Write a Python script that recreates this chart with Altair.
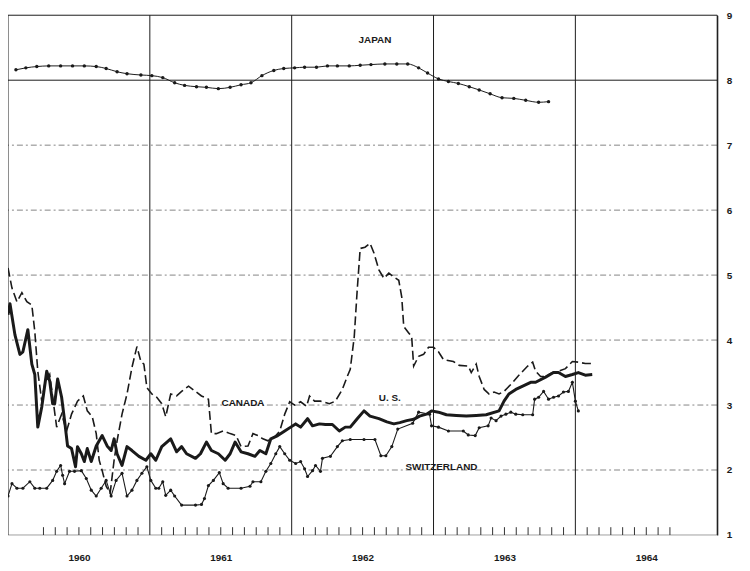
import altair as alt
import pandas as pd

INK = "#1a1a1a"
FONT = "Liberation Sans"

# ---- data (decimal year, rate %) ----
us = [(1960.000,4.39),(1960.014,4.56),(1960.049,4.08),(1960.084,3.78),(1960.105,3.82),(1960.140,4.16),
      (1960.168,3.63),(1960.189,3.47),(1960.210,2.66),(1960.238,2.97),(1960.273,3.52),(1960.294,3.37),
      (1960.315,3.02),(1960.329,3.02),(1960.350,3.40),(1960.378,3.12),(1960.399,2.76),(1960.420,2.37),
      (1960.448,2.33),(1960.476,2.05),(1960.490,2.36),(1960.517,2.25),(1960.538,2.13),(1960.559,2.33),
      (1960.587,2.13),(1960.622,2.37),(1960.664,2.53),(1960.699,2.37),(1960.727,2.30),(1960.748,2.48),
      (1960.769,2.25),(1960.804,2.07),(1960.839,2.36),(1960.874,2.30),(1960.923,2.21),(1960.972,2.15),
      (1961.007,2.25),(1961.042,2.15),(1961.084,2.36),(1961.147,2.48),(1961.189,2.28),(1961.224,2.36),
      (1961.259,2.25),(1961.322,2.18),(1961.357,2.25),(1961.399,2.43),(1961.434,2.30),(1961.483,2.25),
      (1961.531,2.15),(1961.566,2.25),(1961.601,2.43),(1961.643,2.28),(1961.692,2.25),(1961.741,2.21),
      (1961.776,2.30),(1961.818,2.25),(1961.853,2.48),(1961.902,2.53),(1961.951,2.60),(1961.993,2.66),
      (1962.028,2.71),(1962.063,2.66),(1962.112,2.79),(1962.147,2.68),(1962.196,2.71),(1962.238,2.70),
      (1962.287,2.70),(1962.336,2.60),(1962.378,2.66),(1962.413,2.66),(1962.462,2.79),(1962.510,2.91),
      (1962.552,2.83),(1962.615,2.79),(1962.671,2.74),(1962.720,2.71),(1962.762,2.73),(1962.811,2.76),
      (1962.860,2.78),(1962.902,2.83),(1962.951,2.86),(1962.986,2.91),(1963.035,2.89),(1963.091,2.85),
      (1963.161,2.84),(1963.231,2.83),(1963.301,2.84),(1963.371,2.85),(1963.462,2.91),(1963.497,3.06),
      (1963.531,3.17),(1963.580,3.24),(1963.629,3.29),(1963.685,3.35),(1963.720,3.35),(1963.790,3.43),
      (1963.846,3.50),(1963.881,3.50),(1963.930,3.44),(1963.979,3.47),(1964.021,3.50),(1964.070,3.46),
      (1964.119,3.47)]

canada = [(1960.000,5.11),(1960.028,4.80),(1960.063,4.59),(1960.098,4.73),(1960.133,4.59),(1960.168,4.54),
          (1960.189,4.13),(1960.210,3.52),(1960.238,3.06),(1960.259,3.32),(1960.294,3.47),(1960.315,3.12),
          (1960.343,2.66),(1960.378,2.86),(1960.413,2.60),(1960.448,2.86),(1960.490,3.06),(1960.531,3.14),
          (1960.559,2.91),(1960.594,2.82),(1960.622,2.56),(1960.643,2.15),(1960.664,1.99),(1960.692,1.75),
          (1960.720,1.64),(1960.748,2.15),(1960.769,2.45),(1960.804,2.86),(1960.839,3.17),(1960.874,3.58),
          (1960.909,3.90),(1960.937,3.67),(1960.958,3.63),(1960.979,3.27),(1961.014,3.17),(1961.049,3.12),
          (1961.084,3.02),(1961.112,2.82),(1961.147,3.17),(1961.189,3.14),(1961.224,3.21),(1961.273,3.29),
          (1961.322,3.21),(1961.364,3.14),(1961.413,3.09),(1961.434,2.56),(1961.469,2.56),(1961.517,2.60),
          (1961.566,2.56),(1961.608,2.53),(1961.643,2.36),(1961.692,2.37),(1961.727,2.56),(1961.762,2.53),
          (1961.797,2.48),(1961.832,2.45),(1961.881,2.51),(1961.916,2.60),(1961.951,2.86),(1961.986,3.05),
          (1962.021,3.00),(1962.063,3.05),(1962.105,2.98),(1962.126,3.14),(1962.161,3.06),(1962.203,3.06),
          (1962.266,3.02),(1962.308,3.06),(1962.357,3.24),(1962.392,3.44),(1962.413,3.55),(1962.441,4.05),
          (1962.462,4.77),(1962.483,5.41),(1962.517,5.43),(1962.552,5.49),(1962.580,5.34),(1962.615,5.08),
          (1962.650,4.95),(1962.685,5.03),(1962.720,4.97),(1962.755,4.92),(1962.776,4.66),(1962.790,4.21),
          (1962.825,4.11),(1962.846,4.05),(1962.860,3.60),(1962.895,3.75),(1962.930,3.78),(1962.965,3.89),
          (1963.000,3.89),(1963.035,3.82),(1963.070,3.70),(1963.140,3.67),(1963.182,3.61),(1963.245,3.60),
          (1963.266,3.50),(1963.301,3.63),(1963.322,3.44),(1963.357,3.24),(1963.392,3.17),(1963.427,3.20),
          (1963.462,3.17),(1963.497,3.21),(1963.524,3.27),(1963.559,3.35),(1963.594,3.44),(1963.629,3.52),
          (1963.664,3.60),(1963.699,3.66),(1963.720,3.52),(1963.755,3.44),(1963.790,3.44),(1963.839,3.50),
          (1963.881,3.52),(1963.930,3.56),(1963.979,3.67),(1964.021,3.66),(1964.070,3.64),(1964.119,3.64)]

switzerland = [(1960.000,1.60),(1960.028,1.79),(1960.063,1.72),(1960.105,1.72),(1960.154,1.82),(1960.189,1.72),
               (1960.224,1.72),(1960.273,1.72),(1960.315,1.84),(1960.343,1.98),(1960.371,2.07),(1960.385,1.92),
               (1960.399,1.79),(1960.434,1.98),(1960.469,1.98),(1960.517,1.99),(1960.552,1.87),(1960.587,1.69),
               (1960.622,1.60),(1960.657,1.72),(1960.692,1.84),(1960.727,1.60),(1960.762,1.84),(1960.804,1.95),
               (1960.839,1.60),(1960.874,1.69),(1960.909,1.84),(1960.944,1.95),(1960.979,2.05),(1961.007,1.84),
               (1961.042,1.72),(1961.063,1.72),(1961.091,1.82),(1961.112,1.61),(1961.147,1.69),(1961.175,1.60),
               (1961.224,1.46),(1961.322,1.46),(1961.364,1.47),(1961.385,1.56),(1961.413,1.76),(1961.448,1.84),
               (1961.490,1.96),(1961.517,1.79),(1961.552,1.72),(1961.643,1.72),(1961.706,1.75),(1961.727,1.82),
               (1961.783,1.82),(1961.818,1.98),(1961.853,2.10),(1961.888,2.25),(1961.916,2.36),(1961.951,2.25),
               (1961.986,2.15),(1962.028,2.10),(1962.063,2.13),(1962.091,2.02),(1962.112,1.90),(1962.147,1.99),
               (1962.168,2.07),(1962.203,1.98),(1962.217,2.18),(1962.273,2.21),(1962.322,2.36),(1962.357,2.45),
               (1962.413,2.47),(1962.510,2.47),(1962.587,2.47),(1962.629,2.22),(1962.664,2.22),(1962.706,2.36),
               (1962.748,2.63),(1962.853,2.72),(1962.895,2.89),(1962.972,2.86),(1962.986,2.68),(1963.035,2.66),
               (1963.105,2.60),(1963.210,2.60),(1963.245,2.54),(1963.294,2.53),(1963.322,2.65),(1963.385,2.68),
               (1963.406,2.80),(1963.441,2.76),(1963.476,2.83),(1963.510,2.86),(1963.545,2.89),(1963.580,2.86),
               (1963.629,2.85),(1963.699,2.85),(1963.713,3.09),(1963.741,3.12),(1963.776,3.21),(1963.811,3.09),
               (1963.846,3.12),(1963.881,3.14),(1963.916,3.20),(1963.951,3.21),(1963.979,3.35),(1964.000,3.06),
               (1964.021,2.91)]

japan = [(1960.056,8.16),(1960.126,8.19),(1960.203,8.21),(1960.287,8.22),(1960.371,8.22),(1960.455,8.22),
         (1960.538,8.22),(1960.622,8.21),(1960.692,8.18),(1960.769,8.13),(1960.839,8.10),(1960.937,8.08),
         (1961.014,8.07),(1961.091,8.04),(1961.175,7.96),(1961.245,7.92),(1961.329,7.90),(1961.399,7.89),
         (1961.483,7.87),(1961.566,7.89),(1961.643,7.93),(1961.713,7.96),(1961.790,8.07),(1961.874,8.15),
         (1961.944,8.18),(1962.021,8.19),(1962.091,8.20),(1962.175,8.20),(1962.252,8.22),(1962.322,8.22),
         (1962.406,8.22),(1962.483,8.23),(1962.559,8.24),(1962.657,8.25),(1962.741,8.25),(1962.818,8.25),
         (1962.895,8.19),(1962.958,8.11),(1963.035,8.02),(1963.105,7.98),(1963.175,7.95),(1963.252,7.90),
         (1963.322,7.85),(1963.399,7.79),(1963.483,7.73),(1963.566,7.72),(1963.650,7.69),(1963.741,7.66),
         (1963.811,7.67)]

labels = [("JAPAN", 1962.587, 8.62), ("CANADA", 1961.657, 3.03),
          ("U.  S.", 1962.692, 3.11), ("SWITZERLAND", 1963.056, 2.04)]

years = [1960, 1961, 1962, 1963, 1964, 1965]
year_label_pos = [1960.5, 1961.5, 1962.5, 1963.5, 1964.5]
dashed_grid = [2, 3, 4, 5, 6, 7]
solid_grid = [8, 9]
month_ticks = [y + m / 12 for y in range(1960, 1965) for m in range(1, 12)
               if not (y == 1960 and m < 3) and not (y == 1964 and m > 8)]
tick_len = 0.12

def df(pairs):
    return pd.DataFrame(pairs, columns=["t", "v"])

X = alt.X("t:Q", scale=alt.Scale(domain=[1960, 1965], nice=False, zero=False),
          axis=alt.Axis(values=year_label_pos, labelExpr="floor(datum.value)", ticks=False,
                        domain=False, grid=False, title=None, labelFont=FONT, labelFontSize=10,
                        labelFontWeight="bold", labelColor=INK, labelPadding=18, labelFlush=False))
Y = alt.Y("v:Q", scale=alt.Scale(domain=[1, 9], nice=False, zero=False),
          axis=alt.Axis(orient="right", values=list(range(1, 10)), ticks=False, domain=True,
                        domainColor=INK, domainWidth=1.2, grid=False, title=None, labelFont=FONT,
                        labelFontSize=10, labelFontWeight="bold", labelColor=INK, labelPadding=9))

grid_d = alt.Chart(pd.DataFrame({"v": dashed_grid})).mark_rule(
    color="#666", strokeWidth=0.8, strokeDash=[6, 3, 2, 3]).encode(y=Y)
grid_s = alt.Chart(pd.DataFrame({"v": solid_grid})).mark_rule(
    color=INK, strokeWidth=1).encode(y=Y)
base_line = alt.Chart(pd.DataFrame({"v": [1]})).mark_rule(
    color="#777", strokeWidth=0.7).encode(y=Y)
vlines = alt.Chart(pd.DataFrame({"t": years})).mark_rule(
    color=INK, strokeWidth=1).encode(x=X)
ticks = alt.Chart(pd.DataFrame({"t": month_ticks, "v": [1] * len(month_ticks),
                                "v2": [1 + tick_len] * len(month_ticks)})).mark_rule(
    color=INK, strokeWidth=0.9).encode(x=X, y=Y, y2="v2:Q")

us_line = alt.Chart(df(us)).mark_line(color=INK, strokeWidth=3, strokeJoin="round").encode(x=X, y=Y)
ca_line = alt.Chart(df(canada)).mark_line(color=INK, strokeWidth=1.6,
                                           strokeDash=[9, 4]).encode(x=X, y=Y)
sw_line = alt.Chart(df(switzerland)).mark_line(
    color=INK, strokeWidth=1.1, point=alt.OverlayMarkDef(filled=True, size=10, color=INK)).encode(x=X, y=Y)
jp_line = alt.Chart(df(japan)).mark_line(
    color=INK, strokeWidth=1, interpolate="monotone",
    point=alt.OverlayMarkDef(filled=True, size=12, color=INK)).encode(x=X, y=Y)

text = alt.Chart(pd.DataFrame(labels, columns=["label", "t", "v"])).mark_text(
    font=FONT, fontSize=10, fontWeight="bold", color=INK, align="center", baseline="middle"
).encode(x=X, y=Y, text="label:N")

chart = alt.layer(grid_d, grid_s, base_line, vlines, ticks, sw_line, ca_line, us_line, jp_line, text
).properties(
    width=715, height=524,
    autosize=alt.AutoSizeParams(type="none"),
    padding={"left": 0, "top": 5, "right": 25, "bottom": 30},
    background="white"
).configure_view(stroke=None)

chart.save("out.html", embed_options={"renderer": "svg", "actions": False})
